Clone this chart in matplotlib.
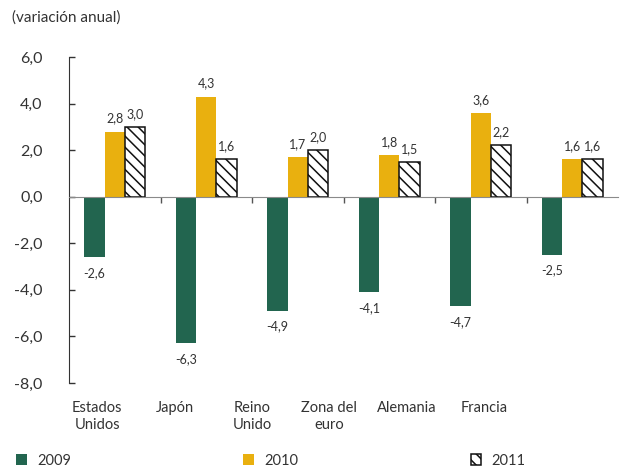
import matplotlib
matplotlib.use('Agg')
import matplotlib.pyplot as plt
import matplotlib.transforms as mtransforms
from matplotlib.patches import Patch
import numpy as np

# datos (variación anual)
paises = ['Estados\nUnidos', 'Japón', 'Reino\nUnido', 'Zona del\neuro', 'Alemania', 'Francia']
v2009 = [-2.6, -6.3, -4.9, -4.1, -4.7, -2.5]
v2010 = [2.8, 4.3, 1.7, 1.8, 3.6, 1.6]
v2011 = [3.0, 1.6, 2.0, 1.5, 2.2, 1.6]
years = ['2009', '2010', '2011']

verde = '#22654f'
amarillo = '#e9b00f'
gris = '#333333'

plt.rcParams['font.family'] = ['Lato', 'DejaVu Sans']
plt.rcParams['hatch.linewidth'] = 1.1

fig = plt.figure(figsize=(6.2, 4.67), dpi=100)
ax = fig.add_axes([69 / 620, 1 - 383 / 467, 549 / 620, 326 / 467])

x = np.arange(len(paises)) + 0.5
w = 0.224

b1 = ax.bar(x - w, v2009, w, color=verde, linewidth=0)
b2 = ax.bar(x, v2010, w, color=amarillo, linewidth=0)
b3 = ax.bar(x + w, v2011, w, color='white', edgecolor='#111111', hatch='\\\\\\', linewidth=1.1)

def fmt(v):
    return '{:.1f}'.format(v).replace('.', ',')

for bars, vals in [(b1, v2009), (b2, v2010), (b3, v2011)]:
    for rect, v in zip(bars, vals):
        cx = rect.get_x() + rect.get_width() / 2
        if v >= 0:
            ax.annotate(fmt(v), (cx, v), xytext=(0, 5), textcoords='offset points',
                        ha='center', va='bottom', fontsize=9, color=gris)
        else:
            ax.annotate(fmt(v), (cx, v), xytext=(0, -7), textcoords='offset points',
                        ha='center', va='top', fontsize=9, color=gris)

ax.set_xlim(0, 6)
ax.set_ylim(-8, 6)
ax.set_yticks(np.arange(-8, 7, 2))
ax.set_yticklabels([fmt(t) for t in np.arange(-8, 7, 2)], fontsize=11.5, color=gris)
ax.tick_params(axis='y', direction='in', length=4, width=1, colors=gris, pad=19, labelcolor=gris)

# eje horizontal en cero con marcas entre grupos
ax.spines['top'].set_visible(False)
ax.spines['right'].set_visible(False)
ax.spines['left'].set_color(gris)
ax.spines['bottom'].set_position(('data', 0))
ax.spines['bottom'].set_color('#8a8a8a')
ax.set_xticks(np.arange(1, 6))
ax.set_xticklabels([])
ax.tick_params(axis='x', direction='out', length=4, width=1, colors='#555555')

# etiquetas de categorías (desplazadas como en el original)
trans = mtransforms.blended_transform_factory(ax.transData, ax.transAxes)
pos_lab = 0.31 + 0.845 * np.arange(len(paises))
for px, lab in zip(pos_lab, paises):
    ax.text(px, -0.055, lab, transform=trans, ha='center', va='top',
            multialignment='center', fontsize=10.5, color=gris, linespacing=1.3)

fig.text(12 / 620, 1 - 18 / 467, '(variación anual)', fontsize=11, color=gris, va='center')

handles = [Patch(facecolor=verde), Patch(facecolor=amarillo),
           Patch(facecolor='white', edgecolor='#111111', hatch='\\\\\\', linewidth=1.1)]
fig.legend(handles, years, ncol=3, loc='lower left', bbox_to_anchor=(0.005, -0.03),
           frameon=False, fontsize=10.5, handlelength=0.75, handleheight=0.75,
           handletextpad=0.7, columnspacing=11.8, labelcolor=gris)

fig.savefig('out.png', dpi=100)
